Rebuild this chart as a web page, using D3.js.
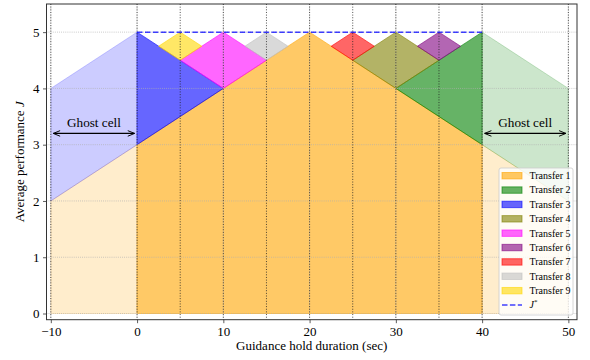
<!DOCTYPE html>
<html>
<head>
<meta charset="utf-8">
<script src="https://cdn.jsdelivr.net/npm/d3@7"></script>
<style>
  html, body { margin: 0; padding: 0; background: #fff; }
  svg { display: block; font-family: "Liberation Serif", "DejaVu Serif", serif; }
  svg text { font-family: "Liberation Serif", "DejaVu Serif", serif; }
</style>
</head>
<body>
<svg id="chart" width="590" height="360"></svg>
<script>
// ---------------- data ----------------
const transferNames = ["Transfer 1","Transfer 2","Transfer 3","Transfer 4","Transfer 5","Transfer 6","Transfer 7","Transfer 8","Transfer 9"];
const transferColors = ["#FFA500","#008000","#0000FF","#808000","#FF00FF","#800080","#FF0000","#C0C0C0","#FFD700"];
// main cells (x, J) for each transfer
const transferCells = [
  [[0,0],[0,3],[20,5],[40,3],[40,0]],
  [[30,4],[40,5],[40,3]],
  [[0,5],[10,4],[0,3]],
  [[25,4.5],[30,5],[35,4.5],[30,4]],
  [[5,4.5],[10,5],[15,4.5],[10,4]],
  [[32.5,4.75],[35,5],[37.5,4.75],[35,4.5]],
  [[22.5,4.75],[25,5],[27.5,4.75],[25,4.5]],
  [[12.5,4.75],[15,5],[17.5,4.75],[15,4.5]],
  [[2.5,4.75],[5,5],[7.5,4.75],[5,4.5]]
];
// ghost cells: [transfer index, polygon]
const ghostCells = [
  [0, [[-10,0],[-10,2],[0,3],[0,0]]],
  [0, [[40,0],[40,3],[50,2],[50,0]]],
  [2, [[-10,2],[-10,4],[0,5],[0,3]]],
  [1, [[40,3],[40,5],[50,4],[50,2]]]
];
const jStar = { x: [0, 40], y: 5 };
const cellBoundaries = [-10, 0, 5, 10, 15, 20, 25, 30, 35, 40, 50];
const xTicks = [-10, 0, 10, 20, 30, 40, 50];
const yTicks = [0, 1, 2, 3, 4, 5];
const ghostArrows = [ { x0: -10, x1: 0, y: 3.2, label: "Ghost cell" }, { x0: 40, x1: 50, y: 3.2, label: "Ghost cell" } ];
const xDomain = [-10.5, 51];
const yDomain = [-0.11, 5.5];

// ---------------- layout ----------------
const svg = d3.select("#chart");
const L = 46.5, R = 577, T = 4, B = 319.7;
const FONT = "Liberation Serif, DejaVu Serif, serif";
const x = d3.scaleLinear().domain(xDomain).range([L, R]);
const y = d3.scaleLinear().domain(yDomain).range([B, T]);

const defs = svg.append("defs");
defs.append("clipPath").attr("id", "clip").append("rect")
  .attr("x", L).attr("y", T).attr("width", R - L).attr("height", B - T);
const arrowMarker = (id, orient) => {
  const m = defs.append("marker").attr("id", id).attr("viewBox", "0 0 10 10")
    .attr("refX", 9.5).attr("refY", 5).attr("markerWidth", 8).attr("markerHeight", 8)
    .attr("markerUnits", "userSpaceOnUse").attr("orient", orient);
  m.append("path").attr("d", "M1,1.5 L9.5,5 L1,8.5").attr("fill", "none")
    .attr("stroke", "#000").attr("stroke-width", 1.2);
};
arrowMarker("arrEnd", "auto");
arrowMarker("arrStart", "auto-start-reverse");

const plot = svg.append("g").attr("clip-path", "url(#clip)");
const line = d3.line().x(d => x(d[0])).y(d => y(d[1]));

// ghost cells
plot.selectAll("path.ghost").data(ghostCells).join("path")
  .attr("class", "ghost")
  .attr("d", d => line(d[1]) + "Z")
  .attr("fill", d => transferColors[d[0]]).attr("fill-opacity", 0.2)
  .attr("stroke", d => transferColors[d[0]]).attr("stroke-opacity", 0.2).attr("stroke-width", 1);

// main cells
plot.selectAll("path.cell").data(transferCells).join("path")
  .attr("class", "cell")
  .attr("d", d => line(d) + "Z")
  .attr("fill", (d, i) => transferColors[i]).attr("fill-opacity", 0.6)
  .attr("stroke", (d, i) => transferColors[i]).attr("stroke-opacity", 0.6).attr("stroke-width", 1);

// grid
plot.selectAll("line.gx").data(xTicks).join("line")
  .attr("x1", d => x(d)).attr("x2", d => x(d)).attr("y1", T).attr("y2", B)
  .attr("stroke", "#b0b0b0").attr("stroke-width", 0.8).attr("stroke-dasharray", "0.8,1.3");
plot.selectAll("line.gy").data(yTicks).join("line")
  .attr("x1", L).attr("x2", R).attr("y1", d => y(d)).attr("y2", d => y(d))
  .attr("stroke", "#b0b0b0").attr("stroke-width", 0.8).attr("stroke-dasharray", "0.8,1.3");

// cell boundaries
plot.selectAll("line.cb").data(cellBoundaries).join("line")
  .attr("x1", d => x(d)).attr("x2", d => x(d)).attr("y1", T).attr("y2", B)
  .attr("stroke", "#222").attr("stroke-opacity", 0.8).attr("stroke-width", 1).attr("stroke-dasharray", "1,1.65");

// J* line
plot.append("path")
  .attr("d", line(jStar.x.map(v => [v, jStar.y])))
  .attr("stroke", "#0000FF").attr("stroke-opacity", 0.75).attr("stroke-width", 1.5)
  .attr("stroke-dasharray", "5.5,2.4").attr("fill", "none");

// ghost arrows
const ga = svg.append("g");
ghostArrows.forEach(a => {
  ga.append("line")
    .attr("x1", x(a.x0) + 2.5).attr("x2", x(a.x1) - 2.5).attr("y1", y(a.y)).attr("y2", y(a.y))
    .attr("stroke", "#000").attr("stroke-width", 1.2)
    .attr("marker-start", "url(#arrStart)").attr("marker-end", "url(#arrEnd)");
  ga.append("text").attr("x", (x(a.x0) + x(a.x1)) / 2).attr("y", y(a.y) - 6)
    .attr("text-anchor", "middle").attr("font-size", 13.2).attr("font-family", FONT)
    .attr("fill", "#000").text(a.label);
});

// axes
const xAxis = d3.axisBottom(x).tickValues(xTicks).tickSize(3.5).tickPadding(3.5)
  .tickFormat(d => d < 0 ? "\u2212" + Math.abs(d) : String(d));
const yAxis = d3.axisLeft(y).tickValues(yTicks).tickSize(3.5).tickPadding(3.5)
  .tickFormat(d => String(d));
const gx = svg.append("g").attr("transform", `translate(0,${B})`).call(xAxis);
const gy = svg.append("g").attr("transform", `translate(${L},0)`).call(yAxis);
[gx, gy].forEach(g => {
  g.attr("font-family", FONT).attr("font-size", 13);
  g.select(".domain").remove();
  g.selectAll("line").attr("stroke", "#333").attr("stroke-width", 0.8);
  g.selectAll("text").attr("font-size", 13).attr("fill", "#000").attr("font-family", FONT);
});

// spines
svg.append("rect").attr("x", L).attr("y", T).attr("width", R - L).attr("height", B - T)
  .attr("fill", "none").attr("stroke", "#333").attr("stroke-width", 1);

// axis labels
svg.append("text").attr("x", (L + R) / 2).attr("y", 350).attr("text-anchor", "middle")
  .attr("font-size", 13).attr("font-family", FONT).attr("fill", "#000").text("Guidance hold duration (sec)");
const yl = svg.append("text").attr("transform", `translate(24,${(T + B) / 2}) rotate(-90)`)
  .attr("text-anchor", "middle").attr("font-size", 13).attr("font-family", FONT).attr("fill", "#000");
yl.append("tspan").text("Average performance ");
yl.append("tspan").attr("font-style", "italic").text("J");

// legend
const lg = svg.append("g").attr("font-family", FONT);
const lgX = 499, lgY = 168, lgW = 74, lgH = 147, rowH = 14.37;
lg.append("rect").attr("x", lgX).attr("y", lgY).attr("width", lgW).attr("height", lgH)
  .attr("rx", 2).attr("fill", "#fff").attr("fill-opacity", 0.8)
  .attr("stroke", "#ccc").attr("stroke-width", 0.8);
const rows = lg.selectAll("g.row").data(transferNames).join("g")
  .attr("transform", (d, i) => `translate(${lgX + 3},${lgY + 7.7 + i * rowH})`);
rows.append("rect").attr("x", 0).attr("y", -3.2).attr("width", 20).attr("height", 6.4)
  .attr("fill", (d, i) => transferColors[i]).attr("fill-opacity", 0.6)
  .attr("stroke", (d, i) => transferColors[i]).attr("stroke-opacity", 0.6).attr("stroke-width", 1);
rows.append("text").attr("x", 27.5).attr("y", 3.4).attr("font-size", 10).attr("fill", "#000").text(d => d);
const jr = lg.append("g").attr("transform", `translate(${lgX + 3},${lgY + 7.7 + 9 * rowH})`);
jr.append("line").attr("x1", 0).attr("x2", 20).attr("y1", 0).attr("y2", 0)
  .attr("stroke", "#0000FF").attr("stroke-opacity", 0.75).attr("stroke-width", 1.5).attr("stroke-dasharray", "5.5,2.4");
const jt = jr.append("text").attr("x", 27.5).attr("y", 3.4).attr("font-size", 10).attr("fill", "#000");
jt.append("tspan").attr("font-style", "italic").text("J");
jt.append("tspan").attr("font-size", 7).attr("dy", -4).text("*");
</script>
</body>
</html>
